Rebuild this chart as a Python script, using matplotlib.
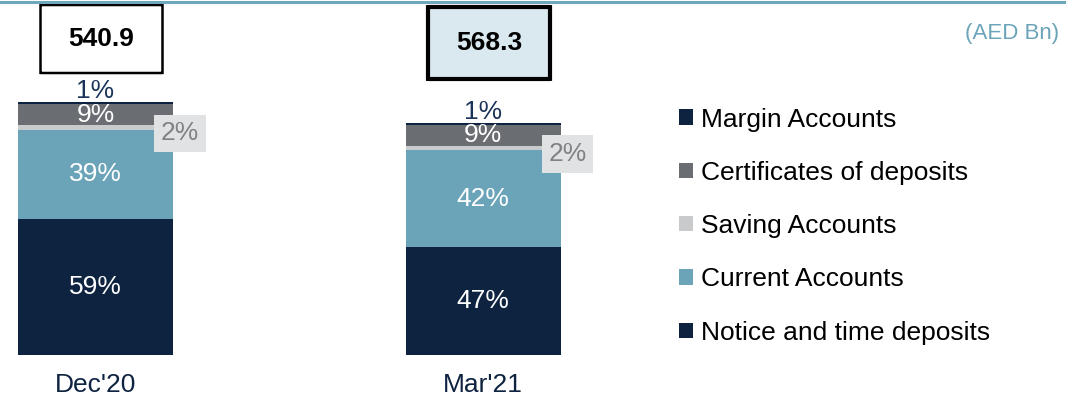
import matplotlib
matplotlib.use("Agg")
import matplotlib.pyplot as plt
from matplotlib.patches import FancyBboxPatch
from matplotlib.lines import Line2D

plt.rcParams['font.family'] = ['Liberation Sans', 'DejaVu Sans']

# Deposit mix by period (shares in %)
periods = ["Dec'20", "Mar'21"]
totals = [540.9, 568.3]          # total deposits, AED Bn
notice_time = [59, 47]
current = [39, 42]
saving = [2, 2]
certificates = [9, 9]
margin = [1, 1]

series = [
    ("Notice and time deposits", notice_time, "#0E2340"),
    ("Current Accounts", current, "#6BA4B9"),
    ("Saving Accounts", saving, "#C9CACC"),
    ("Certificates of deposits", certificates, "#6A6D71"),
    ("Margin Accounts", margin, "#0E2340"),
]

FS = 19
W, H = 1066, 403
fig = plt.figure(figsize=(W / 100, H / 100), dpi=100)

# thin accent rule across the top
fig.add_artist(Line2D([0, 1], [1 - 1.5 / H, 1 - 1.5 / H], color="#6FA8BC",
                      lw=2.2, transform=fig.transFigure))

px_per_unit = 2.3
ax = fig.add_axes([2.5 / W, 48 / H, 573.5 / W, 355 / H])
ax.set_xlim(-0.24, 1.24)
ax.set_ylim(0, 355 / px_per_unit)
ax.axis("off")

x = list(range(len(periods)))
bar_w = 0.4
bottoms = [0.0] * len(periods)
handles = {}
for name, vals, color in series:
    bars = ax.bar(x, vals, bar_w, bottom=bottoms, color=color, linewidth=0)
    handles[name] = bars
    for i, (b, v) in enumerate(zip(bottoms, vals)):
        label = f"{v}%"
        if name in ("Notice and time deposits", "Current Accounts", "Certificates of deposits"):
            ax.text(i, b + v / 2, label, ha="center", va="center",
                    color="white", fontsize=FS)
        elif name == "Saving Accounts":
            ax.annotate(label, (i + bar_w / 2, b + v / 2), xytext=(7, -6),
                        textcoords="offset pixels", ha="center", va="center",
                        color="#7F8185", fontsize=FS,
                        bbox=dict(boxstyle="square,pad=0.25", fc="#E1E2E4", ec="none"))
        elif name == "Margin Accounts":
            ax.annotate(label, (i, b + v), xytext=(0, -1),
                        textcoords="offset pixels", ha="center", va="bottom",
                        color="#1B3358", fontsize=FS)
    bottoms = [b + v for b, v in zip(bottoms, vals)]

# category labels under bars
for i, p in enumerate(periods):
    ax.annotate(p, (i, 0), xytext=(0, -30), textcoords="offset pixels",
                ha="center", va="center", color="#0E2340", fontsize=FS)

# total deposit boxes above bars
box_w = 122 / 387.5
box_dx = 6 / 387.5
box_specs = [
    dict(y0=(355 - 73) / px_per_unit, y1=(355 - 5) / px_per_unit, fc="white", lw=1.8),
    dict(y0=(355 - 79) / px_per_unit, y1=(355 - 7) / px_per_unit, fc="#DAE9EF", lw=3.0),
]
for i, (tot, spec) in enumerate(zip(totals, box_specs)):
    cx = i + box_dx
    rect = FancyBboxPatch((cx - box_w / 2, spec["y0"]), box_w, spec["y1"] - spec["y0"],
                          boxstyle="round,pad=0,rounding_size=0.006",
                          fc=spec["fc"], ec="black", lw=spec["lw"], clip_on=False,
                          mutation_aspect=1 / 0.2)
    ax.add_patch(rect)
    ax.text(cx, (spec["y0"] + spec["y1"]) / 2, f"{tot:.1f}", ha="center", va="center",
            fontsize=FS, fontweight="bold", color="black")

fig.text(1059 / W, 1 - 33 / H, "(AED Bn)", ha="right", va="center",
         color="#6BA4B9", fontsize=16)

order = ["Margin Accounts", "Certificates of deposits", "Saving Accounts",
         "Current Accounts", "Notice and time deposits"]
leg = fig.legend([handles[n] for n in order], order, loc="upper left",
                 bbox_to_anchor=(679 / W, 1 - 107.5 / H), frameon=False,
                 fontsize=FS, borderpad=0, borderaxespad=0,
                 handlelength=0.52, handleheight=0.52, handletextpad=0.3,
                 labelspacing=1.11)

fig.savefig("out.png", dpi=100)
